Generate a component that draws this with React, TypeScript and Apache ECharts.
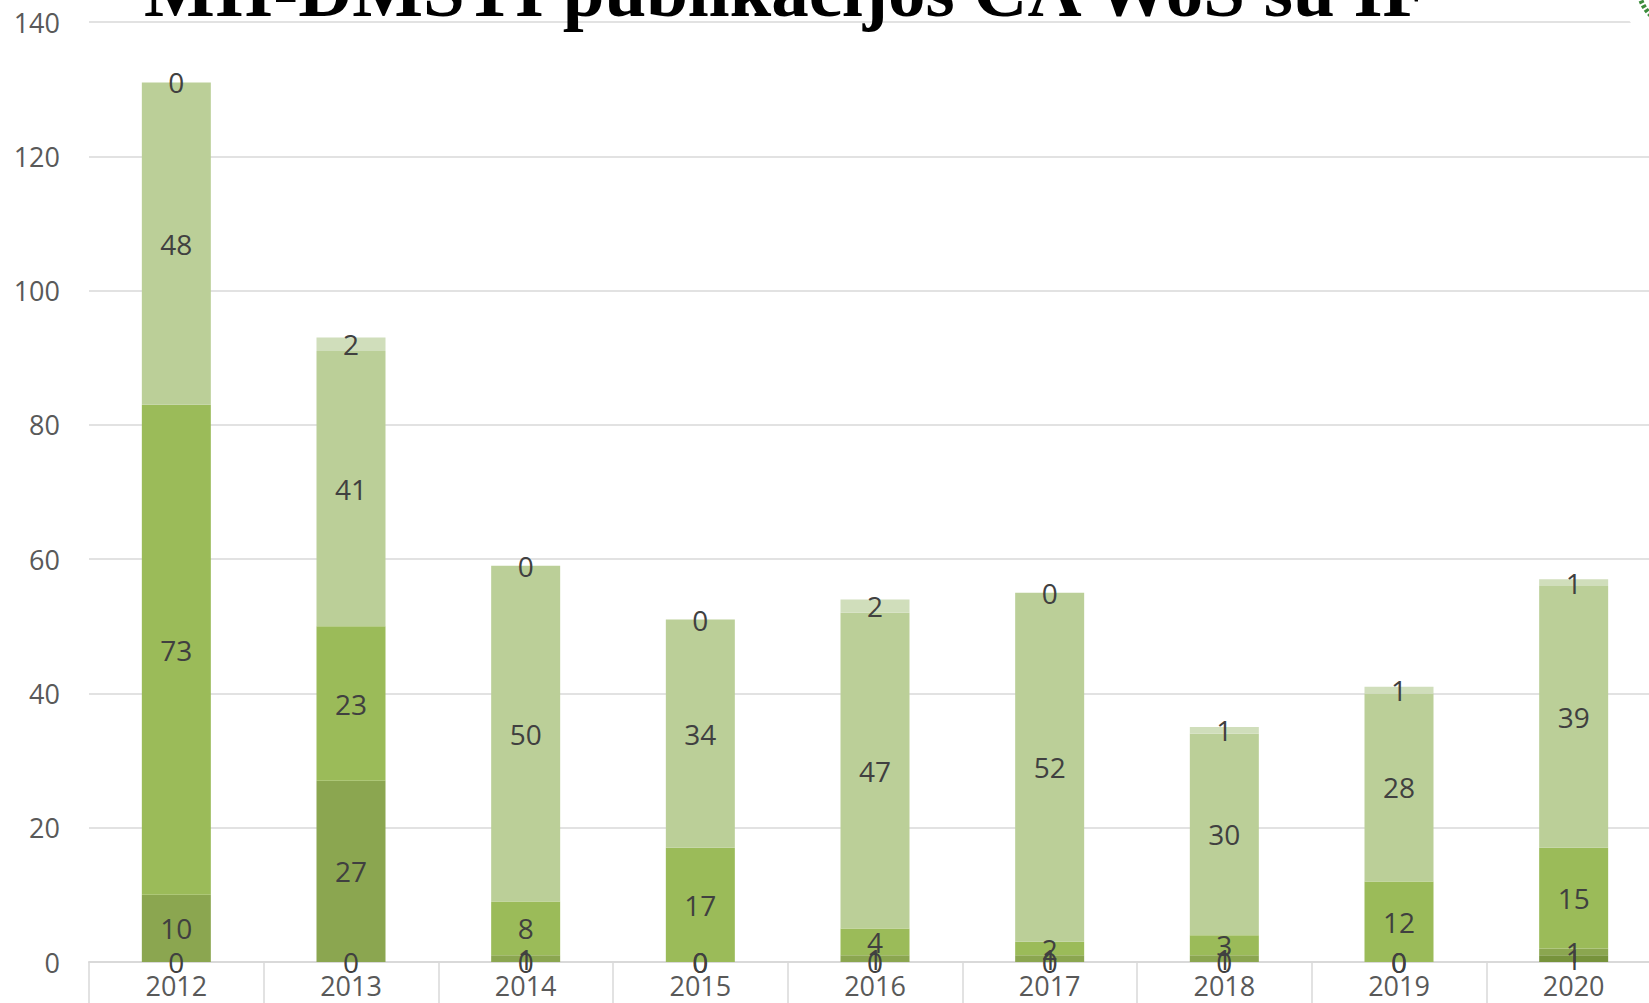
import React, { useEffect, useRef } from "react";
import * as echarts from "echarts";

const years = ["2012", "2013", "2014", "2015", "2016", "2017", "2018", "2019", "2020"];
const series1 = [0, 0, 0, 0, 0, 0, 0, 0, 1];
const series2 = [10, 27, 1, 0, 1, 1, 1, 0, 1];
const series3 = [73, 23, 8, 17, 4, 2, 3, 12, 15];
const series4 = [48, 41, 50, 34, 47, 52, 30, 28, 39];
const series5 = [0, 2, 0, 0, 2, 0, 1, 1, 1];
const seriesNames = ["Serija 1", "Serija 2", "Serija 3", "Serija 4", "Serija 5"];
const seriesColors = ["#77933C", "#8BA650", "#9BBB59", "#BBCF98", "#D0DEBB"];
const yTicks = { min: 0, max: 140, interval: 20 };
const titleText = "MII-DMSTI publikacijos CA WoS su IF";

export default function App() {
  const ref = useRef<HTMLDivElement>(null);
  useEffect(() => {
    document.body.style.margin = "0";
    document.body.style.overflow = "hidden";
    if (!ref.current) return;
    const chart = echarts.init(ref.current, null, { renderer: "svg" });
    const all = [series1, series2, series3, series4, series5];
    const font = '"Open Sans", "Liberation Sans", sans-serif';
    chart.setOption({
      animation: false,
      backgroundColor: "#ffffff",
      grid: { left: 89, top: 22, right: 0, bottom: 41, containLabel: false },
      xAxis: {
        type: "category",
        data: years,
        boundaryGap: true,
        axisLine: { lineStyle: { color: "#D9D9D9", width: 2 } },
        axisTick: { show: true, length: 50, lineStyle: { color: "#D9D9D9", width: 1.5 } },
        axisLabel: { color: "#595959", fontSize: 27, fontFamily: font, margin: 10 },
        splitLine: { show: false },
      },
      yAxis: {
        type: "value",
        min: yTicks.min,
        max: yTicks.max,
        interval: yTicks.interval,
        axisLine: { show: false },
        axisTick: { show: false },
        axisLabel: { color: "#595959", fontSize: 27, fontFamily: font, margin: 29 },
        splitLine: { lineStyle: { color: "#D9D9D9", width: 1.5 } },
      },
      series: all.map((d, i) => ({
        name: seriesNames[i],
        type: "bar",
        stack: "total",
        data: d,
        barWidth: 69,
        itemStyle: { color: seriesColors[i] },
        label: {
          show: true,
          position: "inside",
          color: "#404040",
          fontSize: 28,
          fontFamily: font,
        },
      })),
      graphic: [
        {
          type: "text",
          z: 100,
          x: 144,
          y: -10,
          style: {
            text: titleText,
            font: 'bold 75px "Liberation Serif", "Times New Roman", serif',
            fill: "#000000",
            align: "left",
            verticalAlign: "middle",
          },
        },
        {
          type: "circle",
          z: 100,
          shape: { cx: 1680, cy: -15, r: 62 },
          style: { fill: "#ffffff" },
        },
        {
          type: "circle",
          z: 101,
          shape: { cx: 1680, cy: -15, r: 34 },
          style: { fill: "#2E7D32" },
        },
        {
          type: "arc",
          z: 101,
          shape: { cx: 1680, cy: -15, r: 42, startAngle: Math.PI * 0.4, endAngle: Math.PI * 0.95 },
          style: { stroke: "#3C8C3C", lineWidth: 5, lineDash: [3, 2], fill: "none" },
        },
      ],
    });
    return () => chart.dispose();
  }, []);
  return (
    <div style={{ width: 1649, height: 1003, overflow: "hidden", position: "relative" }}>
      <div ref={ref} style={{ width: 1661, height: 1003 }} />
    </div>
  );
}
